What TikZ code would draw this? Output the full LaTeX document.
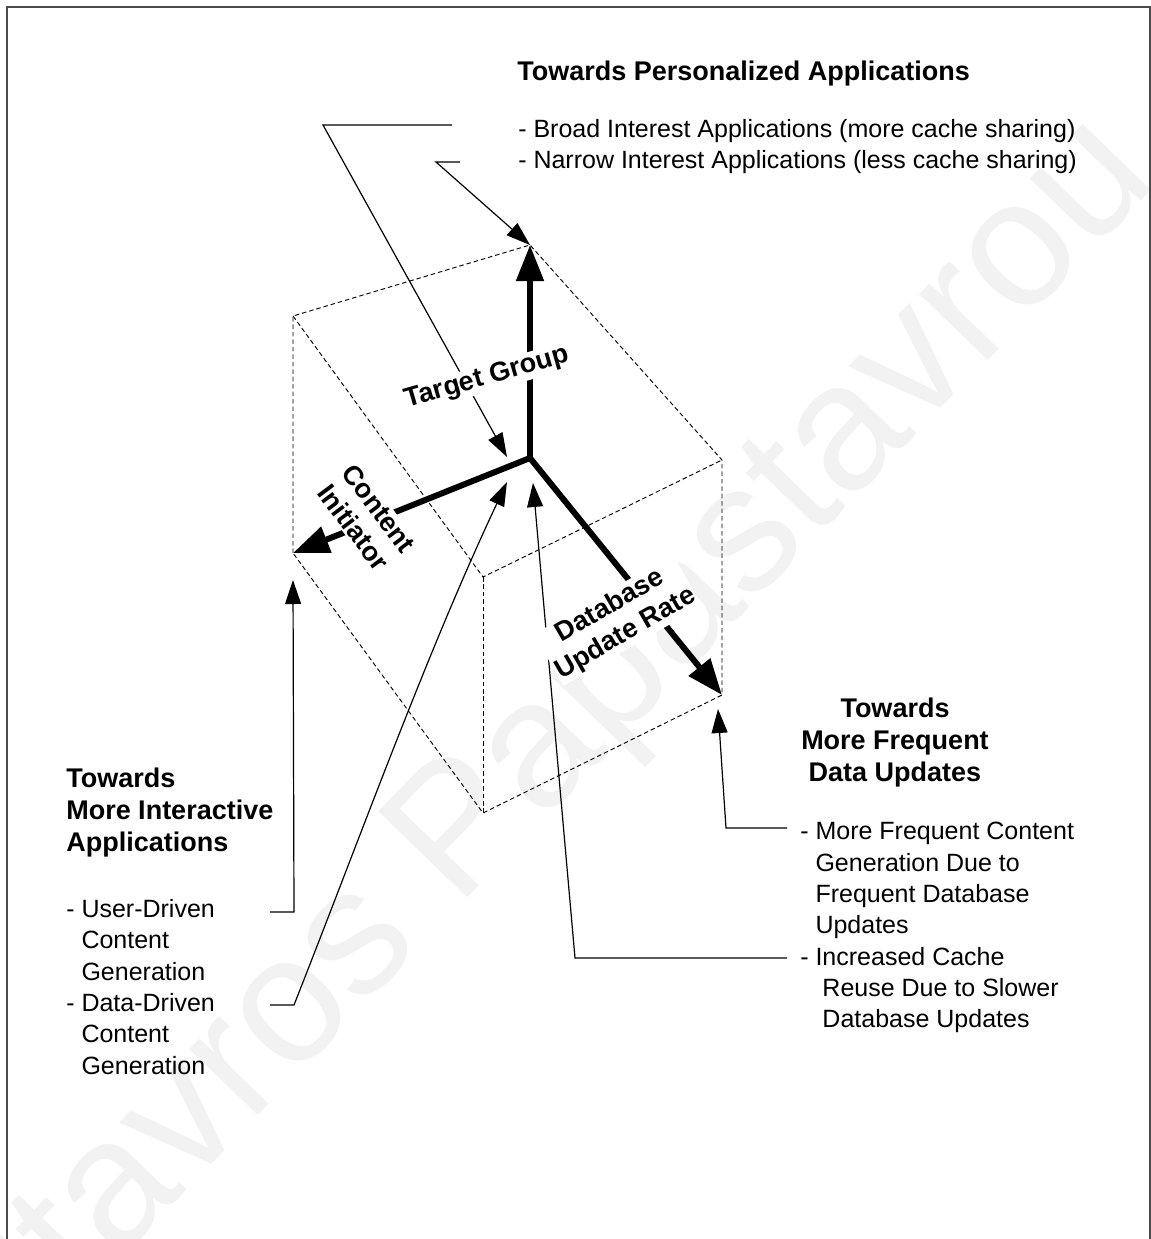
\documentclass[tikz,border=0pt]{standalone}
\usepackage{fontspec}
\setmainfont{Liberation Sans}
\usetikzlibrary{arrows.meta}
\begin{document}
\begin{tikzpicture}[x=0.75pt,y=-0.75pt,
  reg/.style={font=\fontsize{18.75pt}{23.5pt}\selectfont, inner sep=0pt, align=left},
  hd/.style={font=\bfseries\fontsize{20.25pt}{23.7pt}\selectfont, inner sep=0pt},
  axis/.style={line width=4.5pt, line cap=round, -{Triangle[length=27pt,width=20pt]}},
  lead/.style={line width=0.9pt, -{Triangle[length=18pt,width=12pt]}},
  cubeedge/.style={line width=0.7pt, dash pattern=on 3.4pt off 2.2pt},
  axlabel/.style={font=\bfseries\fontsize{20.25pt}{23.7pt}\selectfont, fill=white, inner sep=1pt, align=center},
]
\useasboundingbox (0,0) rectangle (1151,1239);

% faint watermark behind everything
\node[rotate=46, text=black!5, font=\fontsize{135pt}{135pt}\selectfont] (wm) at (548,752) {Stavros Papastavrou};

% frame
\draw[line width=1.5pt, black!70] (7,1239) -- (7,6.5) -- (1150,6.5) -- (1150,1239);

% cube corners
\coordinate (p1) at (293,316);
\coordinate (p2) at (530,245);
\coordinate (p3) at (722,460);
\coordinate (p4) at (483,577);
\coordinate (p5) at (293,553);
\coordinate (p7) at (722,695);
\coordinate (p8) at (483,813);
\coordinate (o)  at (530,458);

% dashed cube
\draw[cubeedge] (p5) -- (p1) -- (p2) -- (p3) -- (p7) -- (p8) -- cycle;
\draw[cubeedge] (p1) -- (p4) -- (p3);
\draw[cubeedge] (p4) -- (p8);

% text blocks
\node[hd, anchor=base west] (title) at (517,80) {Towards Personalized Applications};
\node[reg, anchor=north west] (interest) at (518,119)
  {- Broad Interest Applications (more cache sharing)\\- Narrow Interest Applications (less cache sharing)};

\node[hd, align=left, anchor=north west] (lefthead) at (66,768)
  {Towards\\More Interactive\\Applications};
\node[reg, anchor=north west] (leftitems) at (66,899)
  {- User-Driven\\\hphantom{- }Content\\\hphantom{- }Generation\\- Data-Driven\\\hphantom{- }Content\\\hphantom{- }Generation};

\node[hd, align=center, anchor=north] (righthead) at (895,698)
  {Towards\\More Frequent\\Data Updates};
\node[reg, anchor=north west] (rightitems) at (800,822)
  {- More Frequent Content\\\hphantom{- }Generation Due to\\\hphantom{- }Frequent Database\\\hphantom{- }Updates\\- Increased Cache\\\hphantom{- }\ Reuse Due to Slower\\\hphantom{- }\ Database Updates};

% leader ends
\coordinate (broad1) at (452,125);
\coordinate (broad2) at (323,125);
\coordinate (broadtip) at (507,457);
\coordinate (narrow1) at (460,162);
\coordinate (narrow2) at (436,162);
\coordinate (user1) at (270,912);
\coordinate (user2) at (294,912);
\coordinate (usertip) at (293,580);
\coordinate (data1) at (270,1005);
\coordinate (data2) at (294,1005);
\coordinate (datatip) at (507,482);
\coordinate (freq1) at (787,828);
\coordinate (freq2) at (726,828);
\coordinate (freqtip) at (718,709);
\coordinate (reuse1) at (787,958);
\coordinate (reuse2) at (575,958);
\coordinate (reusetip) at (533,483);

% leaders
\draw[lead] (broad1) -- (broad2) -- (broadtip);
\draw[lead] (narrow1) -- (narrow2) -- (p2);
\draw[lead] (user1) -- (user2) -- (usertip);
\draw[lead] (data1) -- (data2) .. controls (363,830) and (427,652) .. (datatip);
\draw[lead] (freq1) -- (freq2) -- (freqtip);
\draw[lead] (reuse1) -- (reuse2) -- (reusetip);

% the three axes
\draw[axis] (o) -- (p2);
\draw[axis] (o) -- (p5);
\draw[axis] (o) -- (p7);

% axis labels
\node[axlabel, rotate=16] (target) at (487,378) {Target Group};
\node[axlabel, rotate=-53] (initiator) at (366,518) {Content\\Initiator};
\node[axlabel, rotate=30] (rate) at (618,620) {Database\\Update Rate};
\end{tikzpicture}
\end{document}
